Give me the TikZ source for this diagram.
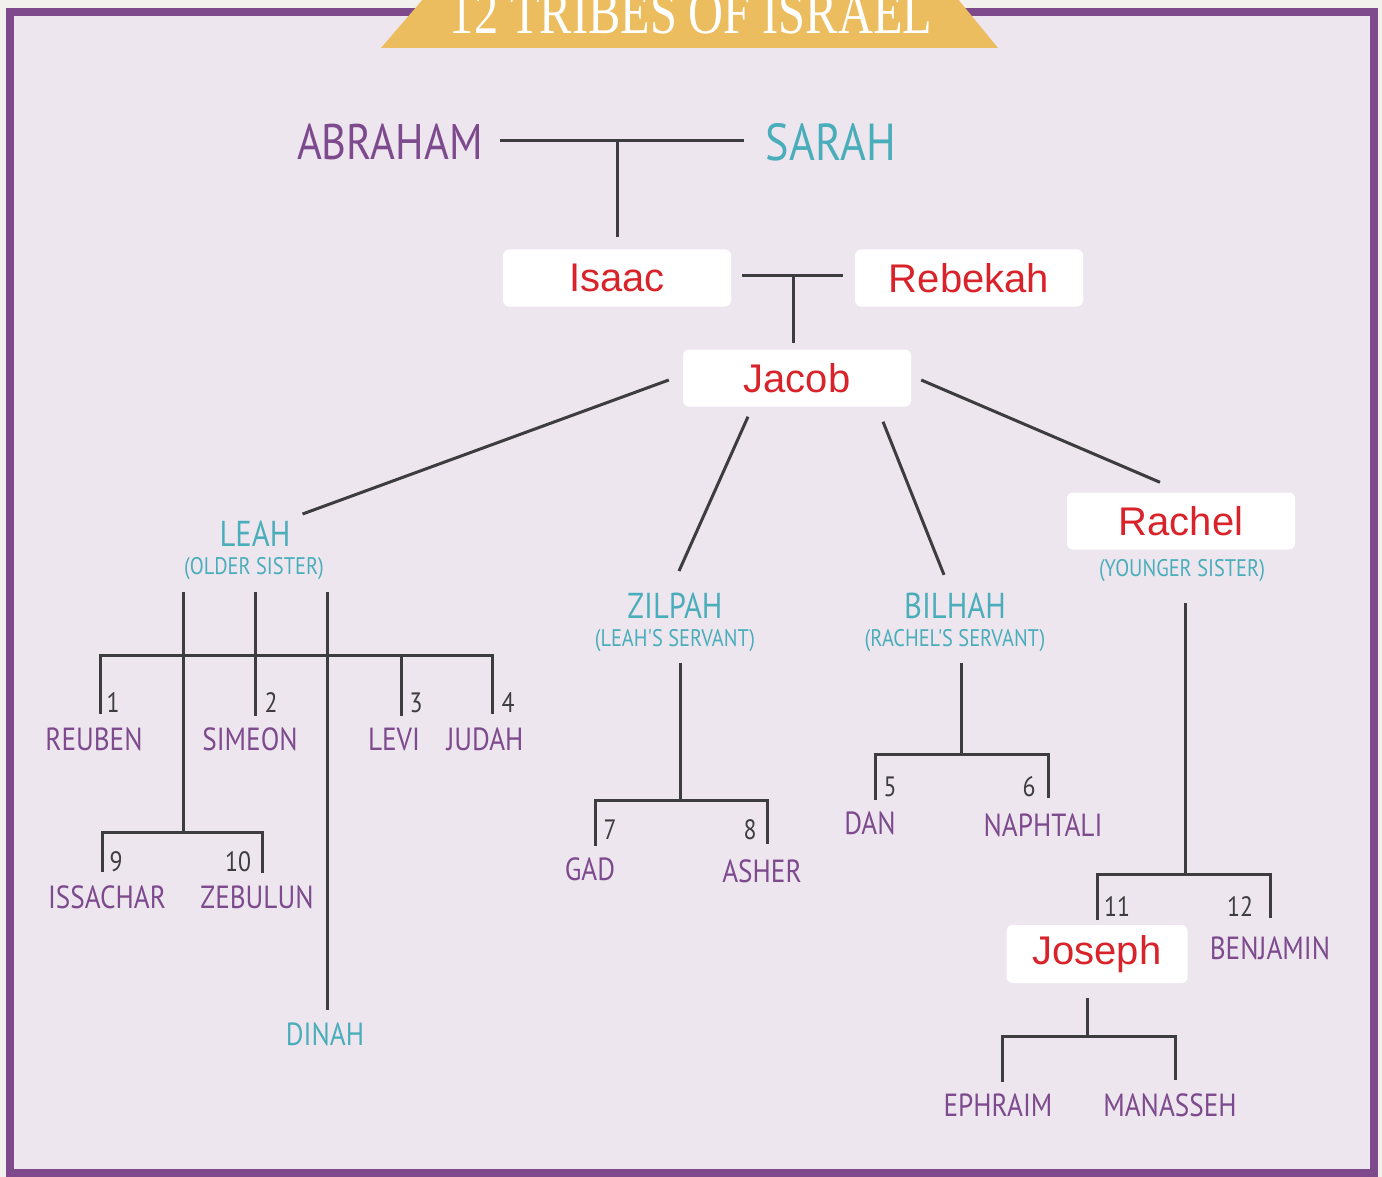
\documentclass[tikz,border=0pt]{standalone}
\usepackage{fontspec}
\setmainfont{Liberation Sans}
\newfontfamily\handfont[FakeStretch=0.85]{PT Sans}
\newfontfamily\titlefont[FakeStretch=0.78]{Liberation Serif}
\usetikzlibrary{calc}

\definecolor{paper}{HTML}{F3F1ED}
\definecolor{lavender}{HTML}{EDE6EF}
\definecolor{framepurple}{HTML}{7E4A8C}
\definecolor{bannergold}{HTML}{ECBD5F}
\definecolor{namepurple}{HTML}{7D4A8D}
\definecolor{wifeteal}{HTML}{4AAEBA}
\definecolor{linegray}{HTML}{3D3C3F}
\definecolor{namered}{HTML}{D8232A}

\tikzset{
  link/.style={draw=linegray, line width=3pt},
  redbox/.style={fill=white, rounded corners=6pt, minimum width=228pt, minimum height=57pt,
    inner sep=0pt, text=namered, font=\fontsize{40}{40}\selectfont},
  wife/.style={text=wifeteal, inner sep=0pt, font=\handfont\fontsize{36}{36}\selectfont},
  note/.style={text=wifeteal, inner sep=0pt, font=\handfont\fontsize{24}{24}\selectfont},
  son/.style={text=namepurple, inner sep=0pt, font=\handfont\fontsize{32}{32}\selectfont},
  num/.style={text=linegray, inner sep=0pt, font=\handfont\fontsize{28}{28}\selectfont},
}

\begin{document}
\begin{tikzpicture}[x=1pt,y=-1pt]
  \useasboundingbox (0,0) rectangle (1382,1177);
  \fill[paper] (0,0) rectangle (1382,1177);
  \draw[framepurple, line width=8pt, fill=lavender] (10,12) rectangle (1374,1173);

  % banner
  \fill[bannergold] (381,48) -- (424,-2) -- (957,-2) -- (998,48) -- cycle;
  \node[text=white, inner sep=0pt, anchor=base, font=\titlefont\fontsize{62}{62}\selectfont] (title) at (691,34) {12 TRIBES OF ISRAEL};

  % grandparents and parents
  \node[text=namepurple, inner sep=0pt, font=\handfont\fontsize{50}{50}\selectfont] (abraham) at (390,142) {ABRAHAM};
  \node[text=wifeteal, inner sep=0pt, font=\handfont\fontsize{52}{52}\selectfont] (sarah) at (831,142) {SARAH};
  \node[redbox] (isaac) at (617,278) {Isaac};
  \node[redbox] (rebekah) at (969,278) {Rebekah};
  \node[redbox] (jacob) at (797,378) {Jacob};

  \draw[link] ($(abraham.east)+(17,-1)$) -- ($(sarah.west)+(-22,-1)$);
  \coordinate (abjoin) at ($(abraham.east)!0.5!(sarah.west)+(-7,-1)$);
  \draw[link] (abjoin) -- ($(abjoin |- isaac.north)+(0,-12)$);
  \draw[link] ($(isaac.east)+(11,-2)$) -- ($(rebekah.west)+(-12,-2)$);
  \coordinate (irjoin) at ($(isaac.east)!0.5!(rebekah.west)+(0,-2)$);
  \draw[link] (irjoin) -- ($(irjoin |- jacob.north)+(0,-6)$);

  % wives
  \node[wife] (leah) at (255,534) {LEAH};
  \node[note] (leahnote) at (254,569) {(OLDER SISTER)};
  \node[wife] (zilpah) at (675,606) {ZILPAH};
  \node[note] (zilpahnote) at (675,641) {(LEAH'S SERVANT)};
  \node[wife] (bilhah) at (955,606) {BILHAH};
  \node[note] (bilhahnote) at (955,641) {(RACHEL'S SERVANT)};
  \node[redbox] (rachel) at (1181,521) {Rachel};
  \node[note] (rachelnote) at (1182,571) {(YOUNGER SISTER)};

  \draw[link] ($(jacob.west)+(-14,2)$) -- ($(leah.north east)+(12,-7)$);
  \draw[link] ($(jacob.south)+(-49,10)$) -- ($(zilpah.north)+(4,-22)$);
  \draw[link] ($(jacob.south)+(86,15)$) -- ($(bilhah.north)+(-11,-18)$);
  \draw[link] ($(jacob.east)+(10,2)$) -- ($(rachel.north)+(-21,-10)$);

  % Leah's children
  \node[son] (reuben) at (94,739) {REUBEN};
  \node[son] (simeon) at (250,739) {SIMEON};
  \node[son] (levi) at (394,739) {LEVI};
  \node[son] (judah) at (485,739) {JUDAH};
  \node[son] (issachar) at (107,897) {ISSACHAR};
  \node[son] (zebulun) at (257,897) {ZEBULUN};
  \node[text=wifeteal, inner sep=0pt, font=\handfont\fontsize{32}{32}\selectfont] (dinah) at (325,1034) {DINAH};
  \node[num] (n1) at (113,703) {1};
  \node[num] (n2) at (271,703) {2};
  \node[num] (n3) at (416,703) {3};
  \node[num] (n4) at (508,703) {4};
  \node[num] (n9) at (116,862) {9};
  \node[num] (n10) at (238,862) {10};

  \coordinate (la) at (183,592);
  \coordinate (lb) at (255,592);
  \coordinate (lc) at (327,592);
  \coordinate (leahbar) at (296,655);
  \coordinate (issbar) at (183,832);
  \coordinate (s1) at (100,714);
  \coordinate (s2) at (255,716);
  \coordinate (s3) at (401,716);
  \coordinate (s4) at (492,714);
  \coordinate (s9) at (102,872);
  \coordinate (s10) at (262,873);
  \draw[link] (s1) |- (s4 |- leahbar) -- (s4);
  \draw[link] (s3 |- leahbar) -- (s3);
  \draw[link] (lb) -- (s2);
  \draw[link] (la) -- (issbar);
  \draw[link] (s9) |- (s10 |- issbar) -- (s10);
  \draw[link] (lc) -- ($(lc |- dinah.north)+(0,-12)$);

  % Zilpah's children
  \node[son] (gad) at (590,869) {GAD};
  \node[son] (asher) at (762,871) {ASHER};
  \node[num] (n7) at (610,830) {7};
  \node[num] (n8) at (750,830) {8};
  \coordinate (zt) at (680,663);
  \coordinate (zbar) at (680,800);
  \coordinate (s7) at (595,846);
  \coordinate (s8) at (767,844);
  \draw[link] (zt) -- (zbar);
  \draw[link] (s7) |- (s8 |- zbar) -- (s8);

  % Bilhah's children
  \node[son] (dan) at (870,823) {DAN};
  \node[son] (naphtali) at (1043,825) {NAPHTALI};
  \node[num] (n5) at (890,787) {5};
  \node[num] (n6) at (1029,787) {6};
  \coordinate (bt) at (961,663);
  \coordinate (bbar) at (961,754);
  \coordinate (s5) at (875,800);
  \coordinate (s6) at (1048,798);
  \draw[link] (bt) -- (bbar);
  \draw[link] (s5) |- (s6 |- bbar) -- (s6);

  % Rachel's children
  \node[redbox, minimum width=181pt, minimum height=58pt] (joseph) at (1097,954) {Joseph};
  \node[son] (benjamin) at (1270,948) {BENJAMIN};
  \node[num] (n11) at (1117,907) {11};
  \node[num] (n12) at (1240,907) {12};
  \coordinate (rt) at (1185,603);
  \coordinate (rbar) at (1185,874);
  \coordinate (s11) at (1097,920);
  \coordinate (s12) at (1270,918);
  \draw[link] (rt) -- (rbar);
  \draw[link] (s11) |- (s12 |- rbar) -- (s12);

  % Joseph's sons
  \node[son] (ephraim) at (998,1105) {EPHRAIM};
  \node[son] (manasseh) at (1170,1105) {MANASSEH};
  \coordinate (jt) at ($(joseph.south)+(-10,15)$);
  \coordinate (jbar) at (1087,1036);
  \coordinate (e1) at (1002,1082);
  \coordinate (e2) at (1175,1080);
  \draw[link] (jt) -- (jbar);
  \draw[link] (e1) |- (e2 |- jbar) -- (e2);
\end{tikzpicture}
\end{document}
